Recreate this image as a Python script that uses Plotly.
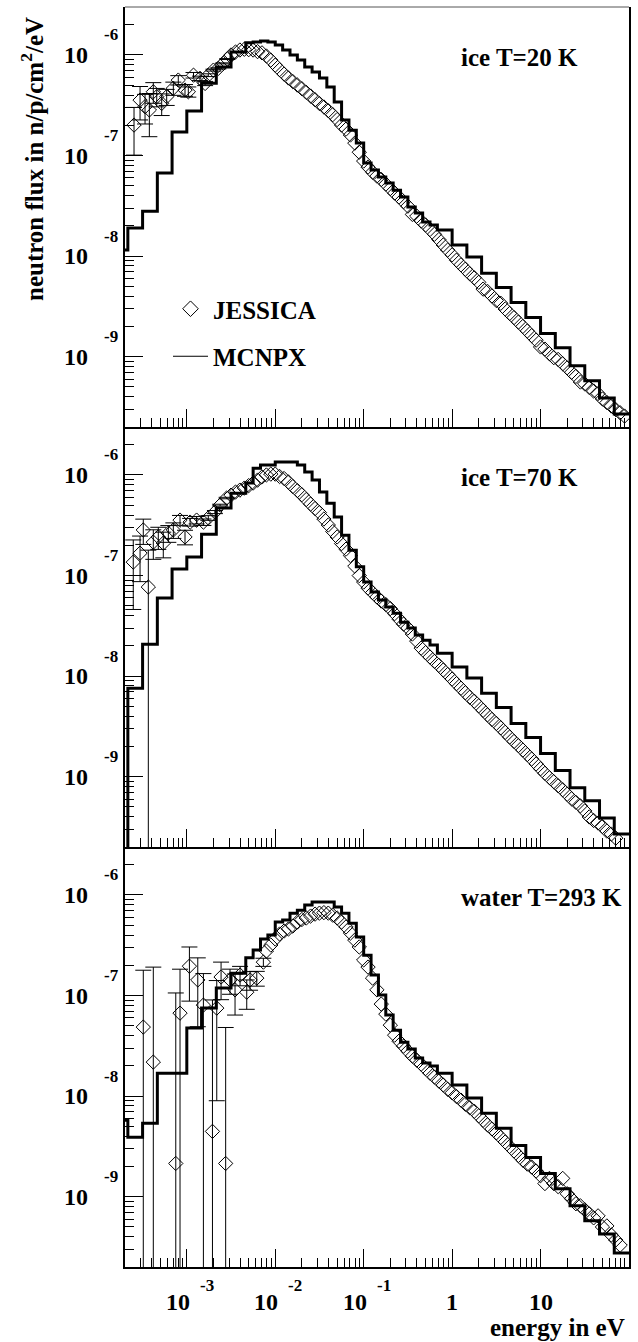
import math
import plotly.graph_objects as go

# ---------------- data ----------------
# MCNPX histogram bin edges (eV)
E_EDGES = [1.47e-4, 2.154e-4, 3.162e-4, 4.642e-4, 6.813e-4, 1.0e-3, 1.468e-3, 2.154e-3, 3.162e-3, 4.642e-3,
           5.623e-3, 6.813e-3, 8.254e-3, 1.0e-2, 1.212e-2, 1.468e-2, 1.778e-2, 2.154e-2, 2.610e-2, 3.162e-2,
           3.831e-2, 4.642e-2, 5.623e-2, 6.813e-2, 8.254e-2, 0.1, 0.1212, 0.1468, 0.1778, 0.2154,
           0.2610, 0.3162, 0.3831, 0.4642, 0.5623, 0.6813, 1.0, 1.468, 2.154, 3.162,
           4.642, 6.813, 10.0, 14.68, 21.54, 31.62, 46.42, 68.13, 100.0]

MCNPX_20K = [1.15e-8, 1.90e-8, 2.80e-8, 6.69e-8, 1.71e-7, 2.77e-7, 5.25e-7, 7.59e-7, 1.07e-6, 1.32e-6,
             1.35e-6, 1.38e-6, 1.35e-6, 1.26e-6, 1.12e-6, 1.00e-6, 8.90e-7, 7.59e-7, 6.76e-7, 5.90e-7,
             4.81e-7, 3.40e-7, 2.26e-7, 1.79e-7, 1.33e-7, 8.42e-8, 7.17e-8, 6.12e-8, 5.32e-8, 4.53e-8,
             3.87e-8, 3.08e-8, 2.68e-8, 2.18e-8, 2.04e-8, 1.82e-8, 1.29e-8, 9.8e-9, 6.76e-9, 4.89e-9,
             3.46e-9, 2.45e-9, 1.70e-9, 1.23e-9, 8.12e-10, 5.76e-10, 3.89e-10, 2.69e-10]

MCNPX_70K = [1e-11, 7.58e-9, 2.08e-8, 5.98e-8, 1.16e-7, 1.53e-7, 2.58e-7, 4.70e-7, 6.60e-7, 8.31e-7,
             1.17e-6, 1.26e-6, 1.26e-6, 1.35e-6, 1.35e-6, 1.35e-6, 1.26e-6, 1.07e-6, 8.90e-7, 6.76e-7,
             5.25e-7, 3.82e-7, 2.52e-7, 1.79e-7, 1.22e-7, 8.62e-8, 6.85e-8, 5.71e-8, 4.86e-8, 4.23e-8,
             3.44e-8, 3.01e-8, 2.56e-8, 2.28e-8, 2.04e-8, 1.69e-8, 1.23e-8, 9.57e-9, 6.76e-9, 4.89e-9,
             3.38e-9, 2.45e-9, 1.70e-9, 1.15e-9, 7.76e-10, 5.76e-10, 3.89e-10, 2.69e-10]

MCNPX_293K = [5.75e-9, 3.89e-9, 5.37e-9, 1.69e-8, 1.69e-8, 4.75e-8, 7.51e-8, 1.19e-7, 1.67e-7, 2.37e-7,
              2.84e-7, 3.65e-7, 4.00e-7, 5.38e-7, 5.63e-7, 6.60e-7, 7.07e-7, 7.93e-7, 8.51e-7, 8.51e-7,
              8.51e-7, 7.59e-7, 6.60e-7, 5.25e-7, 3.82e-7, 2.52e-7, 1.60e-7, 1.01e-7, 6.39e-8, 4.53e-8,
              3.44e-8, 2.94e-8, 2.40e-8, 2.13e-8, 1.99e-8, 1.69e-8, 1.29e-8, 9.57e-9, 6.76e-9, 4.78e-9,
              3.23e-9, 2.45e-9, 1.70e-9, 1.20e-9, 8.12e-10, 5.76e-10, 4.26e-10, 2.75e-10]

# JESSICA energies of the densely measured part (eV)
E_DENSE = [3.16e-3, 3.55e-3, 3.98e-3, 4.47e-3, 5.01e-3, 5.62e-3, 6.31e-3, 7.08e-3, 7.94e-3, 8.91e-3,
           1.00e-2, 1.12e-2, 1.26e-2, 1.41e-2, 1.58e-2, 1.78e-2, 2.00e-2, 2.24e-2, 2.51e-2, 2.82e-2,
           3.16e-2, 3.55e-2, 3.98e-2, 4.47e-2, 5.01e-2, 5.62e-2, 6.31e-2, 7.08e-2, 7.94e-2, 8.91e-2,
           0.100, 0.112, 0.126, 0.141, 0.158, 0.178, 0.200, 0.224, 0.251, 0.282,
           0.316, 0.355, 0.398, 0.447, 0.501, 0.562, 0.631, 0.708, 0.794, 0.891,
           1.00, 1.12, 1.26, 1.41, 1.58, 1.78, 2.00, 2.24, 2.51, 2.82,
           3.16, 3.55, 3.98, 4.47, 5.01, 5.62, 6.31, 7.08, 7.94, 8.91,
           10.0, 11.2, 12.6, 14.1, 15.8, 17.8, 20.0, 22.4, 25.1, 28.2,
           31.6, 35.5, 39.8, 44.7, 50.1, 56.2, 63.1, 70.8, 79.4, 89.1]

# ice 20 K
J20_LOW_E = [2.53e-4, 2.96e-4, 3.37e-4, 3.77e-4, 4.18e-4, 4.57e-4, 5.20e-4, 5.92e-4, 7.04e-4, 8.01e-4,
             9.54e-4, 1.04e-3, 1.19e-3, 1.41e-3, 1.61e-3, 1.75e-3, 2.00e-3, 2.27e-3, 2.59e-3, 2.87e-3]
J20_LOW_F = [2.01e-7, 3.56e-7, 3.06e-7, 2.84e-7, 4.31e-7, 3.85e-7, 3.30e-7, 3.85e-7, 4.67e-7, 5.63e-7,
             4.48e-7, 4.31e-7, 6.30e-7, 5.86e-7, 5.21e-7, 6.30e-7, 7.07e-7, 7.36e-7, 8.25e-7, 9.11e-7]
J20_LOW_ERR = [1.0e-7, 1.3e-7, 1.0e-7, 1.3e-7, 1.0e-7, 0.8e-7, 0.8e-7, 0.7e-7, 0.7e-7, 0.6e-7,
               0.6e-7, 0.5e-7, 0.4e-7, 0.3e-7, 0.25e-7, 0.2e-7, 0.15e-7, 0.1e-7, 0.1e-7, 0.1e-7]
J20_DENSE = [1.00e-6, 1.07e-6, 1.12e-6, 1.14e-6, 1.13e-6, 1.12e-6, 1.08e-6, 1.05e-6, 9.77e-7, 8.90e-7,
             7.93e-7, 7.15e-7, 6.45e-7, 5.90e-7, 5.44e-7, 5.02e-7, 4.62e-7, 4.25e-7, 3.91e-7, 3.59e-7,
             3.29e-7, 3.04e-7, 2.79e-7, 2.55e-7, 2.28e-7, 2.01e-7, 1.83e-7, 1.60e-7, 1.33e-7, 1.08e-7,
             8.82e-8, 7.69e-8, 6.85e-8, 6.25e-8, 5.78e-8, 5.20e-8, 4.70e-8, 4.23e-8, 3.87e-8, 3.48e-8,
             3.14e-8, 2.60e-8, 2.50e-8, 2.23e-8, 2.04e-8, 1.84e-8, 1.65e-8, 1.46e-8, 1.29e-8, 1.15e-8,
             1.03e-8, 9.12e-9, 8.20e-9, 7.41e-9, 6.68e-9, 6.09e-9, 5.49e-9, 4.70e-9, 4.46e-9, 4.02e-9,
             3.62e-9, 3.40e-9, 2.98e-9, 2.69e-9, 2.45e-9, 2.21e-9, 2.00e-9, 1.80e-9, 1.62e-9, 1.46e-9,
             1.25e-9, 1.19e-9, 1.07e-9, 9.78e-10, 9.40e-10, 8.51e-10, 7.76e-10, 6.99e-10, 6.37e-10, 5.60e-10,
             5.37e-10, 4.95e-10, 4.56e-10, 4.30e-10, 3.80e-10, 3.50e-10, 3.23e-10, 2.98e-10, 2.77e-10, 2.57e-10]

# ice 70 K
J70_LOW_E = [2.48e-4, 2.96e-4, 3.22e-4, 3.67e-4, 4.18e-4, 4.76e-4, 5.42e-4, 6.18e-4, 7.04e-4, 8.38e-4,
             9.54e-4, 1.09e-3, 1.29e-3, 1.54e-3, 1.75e-3, 2.08e-3, 2.38e-3, 2.82e-3]
J70_LOW_F = [1.36e-7, 1.67e-7, 2.84e-7, 7.69e-8, 2.15e-7, 2.42e-7, 2.10e-7, 2.64e-7, 2.84e-7, 3.56e-7,
             2.42e-7, 3.40e-7, 3.56e-7, 3.40e-7, 3.74e-7, 4.28e-7, 5.02e-7, 5.90e-7]
J70_LOW_ERR = [0.9e-7, 0.8e-7, 0.8e-7, 1.02e-7, 0.7e-7, 0.6e-7, 0.6e-7, 0.5e-7, 0.5e-7, 0.4e-7,
               0.4e-7, 0.3e-7, 0.3e-7, 0.25e-7, 0.2e-7, 0.15e-7, 0.1e-7, 0.1e-7]
J70_DENSE = [6.30e-7, 6.76e-7, 7.07e-7, 7.41e-7, 7.84e-7, 8.31e-7, 8.90e-7, 9.55e-7, 1.00e-6, 1.02e-6,
             1.02e-6, 9.66e-7, 9.22e-7, 8.51e-7, 7.67e-7, 6.99e-7, 6.37e-7, 5.70e-7, 5.14e-7, 4.64e-7,
             4.23e-7, 3.65e-7, 3.18e-7, 2.74e-7, 2.42e-7, 2.08e-7, 1.83e-7, 1.58e-7, 1.24e-7, 9.99e-8,
             8.62e-8, 7.51e-8, 6.77e-8, 6.12e-8, 5.58e-8, 5.14e-8, 4.70e-8, 4.18e-8, 3.69e-8, 3.29e-8,
             3.01e-8, 2.62e-8, 2.23e-8, 1.90e-8, 1.71e-8, 1.55e-8, 1.40e-8, 1.28e-8, 1.15e-8, 1.04e-8,
             9.35e-9, 8.41e-9, 7.58e-9, 6.83e-9, 6.17e-9, 5.63e-9, 5.07e-9, 4.57e-9, 4.12e-9, 3.71e-9,
             3.39e-9, 3.06e-9, 2.76e-9, 2.48e-9, 2.24e-9, 2.04e-9, 1.84e-9, 1.66e-9, 1.50e-9, 1.34e-9,
             1.20e-9, 1.08e-9, 9.79e-10, 8.92e-10, 8.13e-10, 7.42e-10, 6.69e-10, 6.03e-10, 5.56e-10, 5.13e-10,
             4.57e-10, 3.98e-10, 3.67e-10, 3.46e-10, 3.20e-10, 2.88e-10, 2.69e-10, 2.45e-10]

# water 293 K
J293_LOW_E = [3.22e-4, 4.18e-4, 7.50e-4, 8.38e-4, 1.07e-3, 1.33e-3, 1.54e-3, 1.95e-3, 2.18e-3, 2.44e-3,
              2.75e-3, 3.08e-3, 3.51e-3, 4.00e-3, 4.76e-3, 5.19e-3, 6.18e-3, 7.34e-3]
J293_LOW_F = [4.86e-8, 2.18e-8, 2.14e-9, 6.69e-8, 1.96e-7, 1.43e-7, 8.04e-8, 4.46e-9, 7.50e-8, 1.53e-7,
              2.14e-9, 1.43e-7, 1.14e-7, 1.60e-7, 1.08e-7, 1.43e-7, 1.49e-7, 2.15e-7]
J293_LOW_ERR = [1.3e-7, 1.7e-7, 1.04e-7, 1.16e-7, 1.08e-7, 9.4e-8, 8.5e-8, 8.6e-8, 6.6e-8, 6.2e-8,
                4.6e-8, 4.0e-8, 5.0e-8, 3.5e-8, 3.5e-8, 3.0e-8, 2.5e-8, 2.0e-8]
J293_DENSE_START = 8   # first dense energy index used (7.94e-3 eV)
J293_DENSE = [2.77e-7, 3.18e-7, 3.65e-7, 4.09e-7, 4.38e-7, 4.59e-7, 4.91e-7, 5.38e-7, 5.70e-7, 5.90e-7,
              6.17e-7, 6.45e-7, 6.60e-7, 6.68e-7, 6.60e-7, 6.30e-7, 5.90e-7, 5.38e-7, 4.81e-7, 4.18e-7,
              3.56e-7, 3.04e-7, 2.26e-7, 1.92e-7, 1.49e-7, 1.14e-7, 8.23e-8, 6.54e-8, 5.08e-8, 4.04e-8,
              3.52e-8, 3.14e-8, 2.80e-8, 2.50e-8, 2.28e-8, 2.08e-8, 1.88e-8, 1.69e-8, 1.55e-8, 1.41e-8,
              1.29e-8, 1.17e-8, 1.08e-8, 9.90e-9, 9.12e-9, 8.31e-9, 7.67e-9, 7.07e-9, 6.37e-9, 5.75e-9,
              5.18e-9, 4.72e-9, 4.31e-9, 3.89e-9, 3.50e-9, 3.16e-9, 2.85e-9, 2.57e-9, 2.31e-9, 2.11e-9,
              1.97e-9, 1.80e-9, 1.62e-9, 1.35e-9, 1.52e-9, 1.35e-9, 1.26e-9, 1.52e-9, 1.07e-9, 9.56e-10,
              8.51e-10, 8.12e-10, 7.41e-10, 6.76e-10, 6.16e-10, 6.45e-10, 5.00e-10, 5.12e-10, 4.16e-10, 3.71e-10,
              3.30e-10]

PANEL_LABELS = ["ice T=20 K", "ice T=70 K", "water T=293 K"]
Y_DECADES = [1e-6, 1e-7, 1e-8, 1e-9]
X_TICK_VALUES = [1e-3, 1e-2, 1e-1, 1.0, 10.0]
X_TICK_BASE = ["10", "10", "10", "1", "10"]
X_TICK_EXP = ["-3", "-2", "-1", "", ""]
X_RANGE = [2e-4, 100.0]
Y_RANGE = [2e-10, 3e-6]

# ---------------- layout geometry ----------------
W, H = 638, 1342
X_DOM = [125 / W, 629 / W]
PANEL_PX = [(7, 427), (427, 847), (847, 1267)]
FONT = "Liberation Serif"

panels = [
    (J20_LOW_E, J20_LOW_F, J20_LOW_ERR, E_DENSE[:len(J20_DENSE)], J20_DENSE, MCNPX_20K),
    (J70_LOW_E, J70_LOW_F, J70_LOW_ERR, E_DENSE[:len(J70_DENSE)], J70_DENSE, MCNPX_70K),
    (J293_LOW_E, J293_LOW_F, J293_LOW_ERR,
     E_DENSE[J293_DENSE_START:J293_DENSE_START + len(J293_DENSE)], J293_DENSE, MCNPX_293K),
]

marker = dict(symbol="diamond-open", size=11, color="black", line=dict(width=1, color="black"))

fig = go.Figure()
layout = dict(width=W, height=H, autosize=False,
              margin=dict(l=0, r=0, t=0, b=0),
              paper_bgcolor="white", plot_bgcolor="white",
              font=dict(family=FONT, color="black"),
              showlegend=True)

annotations = []
for i, (le, lf, lerr, de, df, mc) in enumerate(panels):
    n = i + 1
    xa = "x" if n == 1 else f"x{n}"
    ya = "y" if n == 1 else f"y{n}"
    fig.add_trace(go.Scatter(x=le, y=lf, mode="markers", marker=marker, showlegend=False,
                             error_y=dict(type="data", array=lerr, color="black", thickness=1, width=8),
                             xaxis=xa, yaxis=ya))
    fig.add_trace(go.Scatter(x=de, y=df, mode="markers", marker=marker, showlegend=False,
                             xaxis=xa, yaxis=ya))
    fig.add_trace(go.Scatter(x=E_EDGES, y=mc + [mc[-1]], mode="lines", line_shape="hv",
                             line=dict(color="black", width=3), showlegend=False,
                             xaxis=xa, yaxis=ya))

    top, bot = PANEL_PX[i]
    dom = [1 - bot / H, 1 - top / H]
    xkey = "xaxis" if n == 1 else f"xaxis{n}"
    ykey = "yaxis" if n == 1 else f"yaxis{n}"
    layout[xkey] = dict(type="log", range=[math.log10(X_RANGE[0]), math.log10(X_RANGE[1])],
                        domain=X_DOM, anchor=ya, showline=True, linecolor="black", linewidth=2,
                        mirror=False, ticks="inside", ticklen=18, tickwidth=1, tickcolor="black",
                        tick0=0, dtick=1, showticklabels=False, showgrid=False, zeroline=False,
                        minor=dict(ticks="inside", ticklen=9, tickwidth=1, tickcolor="black",
                                   dtick="D1", showgrid=False))
    layout[ykey] = dict(type="log", range=[math.log10(Y_RANGE[0]), math.log10(Y_RANGE[1])],
                        domain=dom, anchor=xa, showline=True, linecolor="black", linewidth=2,
                        mirror=True, ticks="inside", ticklen=18, tickwidth=1, tickcolor="black",
                        tick0=0, dtick=1, showticklabels=False, showgrid=False, zeroline=False,
                        minor=dict(ticks="inside", ticklen=9, tickwidth=1, tickcolor="black",
                                   dtick="D1", showgrid=False))

    # y tick labels (10 with exponent)
    for v in Y_DECADES:
        e = round(math.log10(v))
        annotations.append(dict(text="10", xref="paper", x=90 / W, xanchor="right",
                                yref=ya, y=e, yanchor="middle", showarrow=False,
                                font=dict(family=FONT, size=24, weight="bold")))
        annotations.append(dict(text=str(e), xref="paper", x=102 / W, xanchor="left",
                                yref=ya, y=e, yanchor="middle", yshift=20, showarrow=False,
                                font=dict(family=FONT, size=17, weight="bold")))
    # panel label
    annotations.append(dict(text=PANEL_LABELS[i], xref="paper", x=459 / W, xanchor="left",
                            yref="paper", y=1 - (top + 50) / H, yanchor="middle", showarrow=False,
                            font=dict(family=FONT, size=25, weight="bold")))

# x tick labels on bottom panel
for v, b, ex in zip(X_TICK_VALUES, X_TICK_BASE, X_TICK_EXP):
    lv = math.log10(v)
    annotations.append(dict(text=b, xref="x3", x=lv, xanchor="center", xshift=(-9 if ex else 0),
                            yref="paper", y=1 - 1302 / H, yanchor="middle", showarrow=False,
                            font=dict(family=FONT, size=24, weight="bold")))
    if ex:
        annotations.append(dict(text=ex, xref="x3", x=lv, xanchor="center", xshift=20,
                                yref="paper", y=1 - 1285 / H, yanchor="middle", showarrow=False,
                                font=dict(family=FONT, size=17, weight="bold")))

annotations.append(dict(text="energy in eV", xref="paper", x=627 / W, xanchor="right",
                        yref="paper", y=1 - 1327 / H, yanchor="middle", showarrow=False,
                        font=dict(family=FONT, size=25, weight="bold")))
annotations.append(dict(text="neutron flux in n/p/cm<sup>2</sup>/eV", xref="paper", x=32 / W,
                        xanchor="center", yref="paper", y=1 - 15 / H, yanchor="top",
                        textangle=-90, showarrow=False,
                        font=dict(family=FONT, size=25, weight="bold")))
layout["annotations"] = annotations

# thin top frame line of the first panel
layout["shapes"] = [dict(type="line", xref="paper", yref="paper", x0=X_DOM[0], x1=X_DOM[1],
                         y0=1 - 7 / H, y1=1 - 7 / H, line=dict(color="#555", width=1))]

# legend entries
fig.add_trace(go.Scatter(x=[None], y=[None], mode="markers", name="JESSICA",
                         marker=dict(symbol="diamond-open", size=12, color="black", line=dict(width=1)),
                         legendgroup="a"))
fig.add_trace(go.Scatter(x=[None], y=[None], mode="lines", name="MCNPX",
                         line=dict(color="black", width=1), legendgroup="b"))
layout["legend"] = dict(x=168 / W, y=1 - 286 / H, xanchor="left", yanchor="top",
                        bgcolor="rgba(0,0,0,0)", borderwidth=0, traceorder="grouped",
                        tracegroupgap=12, itemsizing="trace", itemwidth=35,
                        font=dict(family=FONT, size=25, color="black", weight="bold"))

fig.update_layout(**layout)
fig.write_html("out.html")
